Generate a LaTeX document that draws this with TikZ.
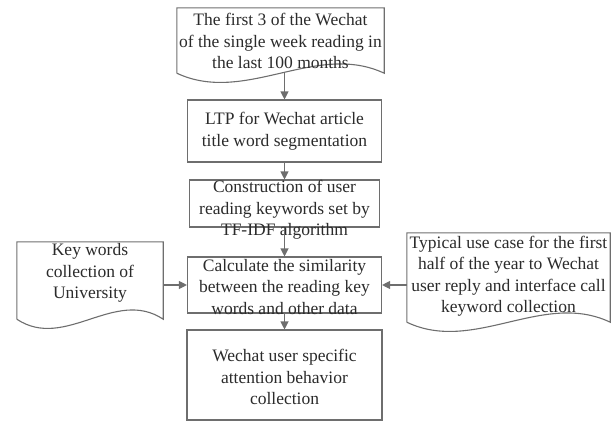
\documentclass[tikz,border=0pt]{standalone}
\usepackage{fontspec}
\setmainfont{Liberation Serif}
\usetikzlibrary{positioning}
\usetikzlibrary{arrows.meta,calc}
\definecolor{linegray}{HTML}{6E6E6E}
\definecolor{inkgray}{HTML}{2B2B2B}

% document shape: straight top and sides, wavy bottom
\newcommand{\docshape}[1]{%
  \draw[gline] (#1.south west) -- (#1.north west) -- (#1.north east) -- (#1.south east)
    .. controls ($(#1.south east)!0.33!(#1.south west)+(0pt,32pt)$)
    and ($(#1.south east)!0.67!(#1.south west)+(0pt,-32pt)$) .. (#1.south west);}

\begin{document}
\begin{tikzpicture}[
    x=1pt, y=-1pt,
    gline/.style={draw=linegray, line width=1.1pt},
    box/.style={gline, rectangle, inner sep=0pt},
    doc/.style={rectangle, inner sep=0pt},
    txt/.style={align=center, text=inkgray, inner sep=0pt, font=\fontsize{17.5}{21.5}\selectfont},
    arrow/.style={gline, -{Triangle[length=8pt,width=8pt]}}
]
\useasboundingbox (0,0) rectangle (613,421);

% top document
\node[doc, minimum width=207pt, minimum height=65pt] (topdoc) at (280.5,40.5) {};
\docshape{topdoc}
\node[txt] (toptxt) at (280.5,41) {The first 3 of the Wechat\\of the single week reading in\\the last 100 months};

% main column
\node[box, minimum width=194pt, minimum height=62pt] (ltp) at (284.5,131) {};
\node[txt] (ltptxt) at (ltp.center) {LTP for Wechat article\\title word segmentation};

\node[box, minimum width=190pt, minimum height=47pt] (build) at (284.5,203.5) {};
\node[txt] (buildtxt) at (284.5,210) {Construction of user\\reading keywords set by\\TF-IDF algorithm};

\node[box, minimum width=194pt, minimum height=56pt] (calc) at (284.5,285) {};
\node[txt] (calctxt) at (284.5,287) {Calculate the similarity\\between the reading key\\words and other data};

\node[box, minimum width=195pt, minimum height=90pt] (final) at (284.5,375) {};
\node[txt] (finaltxt) at (284.5,377) {Wechat user specific\\attention behavior\\collection};

% side documents
\node[doc, minimum width=146pt, minimum height=77pt] (unidoc) at (90,280.5) {};
\docshape{unidoc}
\node[txt] (unitxt) at (90,273) {Key words\\collection of\\University};

\node[doc, minimum width=203pt, minimum height=89pt] (casedoc) at (508.5,277.5) {};
\docshape{casedoc}
\node[txt] (casetxt) at (508.5,276) {Typical use case for the first\\half of the year to Wechat\\user reply and interface call\\keyword collection};

% arrows
\draw[arrow] (topdoc.south -| ltp.north) -- (ltp.north);
\draw[arrow] (ltp.south) -- (build.north);
\draw[arrow] (build.south) -- (calc.north);
\draw[arrow] (calc.south) -- (final.north);
\draw[arrow] (unidoc.east |- calc.west) -- (calc.west);
\draw[arrow] (casedoc.west |- calc.east) -- (calc.east);

\end{tikzpicture}
\end{document}
